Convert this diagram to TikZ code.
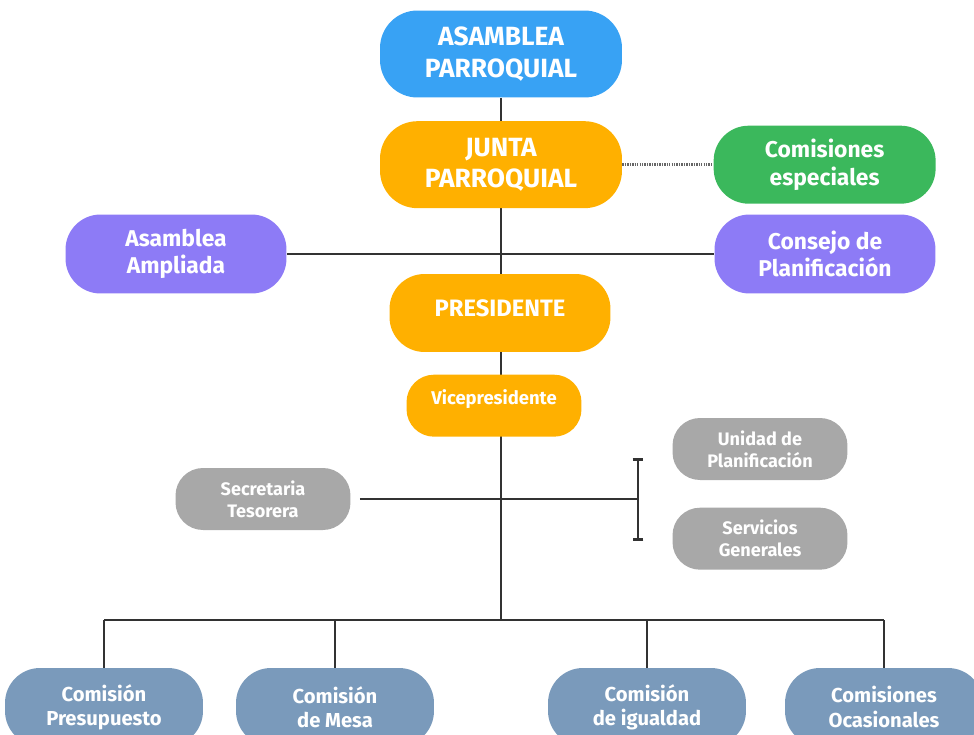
\documentclass[tikz,border=0pt]{standalone}
\usepackage{fontspec}
\setmainfont{Fira Sans}
\usetikzlibrary{positioning, arrows.meta, backgrounds}
\definecolor{asblue}{RGB}{56, 162, 244}
\definecolor{juntaorange}{RGB}{255, 176, 0}
\definecolor{espgreen}{RGB}{59, 184, 92}
\definecolor{conspurple}{RGB}{141, 123, 246}
\definecolor{staffgray}{RGB}{168, 168, 168}
\definecolor{comsteel}{RGB}{122, 154, 187}
\definecolor{linedark}{RGB}{50, 50, 50}
\tikzset{
  orgnode/.style={rounded corners=0.55cm, text=white, align=center, inner sep=2pt},
  topnode/.style={orgnode, rounded corners=0.75cm, fill=asblue, minimum width=4.84cm, minimum height=1.74cm, font=\fontsize{15}{17.8}\selectfont\bfseries},
  juntanode/.style={topnode, fill=juntaorange},
  espnode/.style={orgnode, rounded corners=0.7cm, fill=espgreen, minimum width=4.44cm, minimum height=1.56cm, font=\fontsize{13}{15.5}\selectfont\bfseries},
  consnode/.style={espnode, fill=conspurple, minimum width=4.42cm, minimum height=1.58cm},
  presnode/.style={orgnode, rounded corners=0.7cm, fill=juntaorange, minimum width=4.42cm, minimum height=1.56cm, text depth=0.2cm, font=\fontsize{13.5}{16}\selectfont\bfseries},
  vicenode/.style={orgnode, fill=juntaorange, minimum width=3.5cm, minimum height=1.24cm, text depth=0.33cm, font=\fontsize{10.5}{12.5}\selectfont\bfseries},
  staffnode/.style={orgnode, fill=staffgray, minimum width=3.5cm, minimum height=1.24cm, font=\fontsize{10.3}{12.5}\selectfont\bfseries},
  comnode/.style={orgnode, rounded corners=0.7cm, fill=comsteel, minimum width=3.96cm, minimum height=1.56cm, font=\fontsize{11.5}{13.8}\selectfont\bfseries},
  orgline/.style={draw=linedark, line width=1.5pt},
  dotline/.style={draw=gray!80!black, line width=2pt, dash pattern=on 0.8pt off 0.6pt},
}
\begin{document}
\begin{tikzpicture}[x=0.02cm, y=-0.02cm]
  \useasboundingbox (0,0) rectangle (974,734);
  \clip (0,0) rectangle (974,734);
  % upper part
  \node[topnode] (asp) at (501,54) {ASAMBLEA\\PARROQUIAL};
  \node[juntanode, below=0.46cm of asp] (junta) {JUNTA\\PARROQUIAL};
  \node[espnode, right=1.82cm of junta] (esp) {Comisiones\\especiales};
  \node[consnode] (cons) at (825,254) {Consejo de\\Planificación};
  \node[consnode] (amp) at (176,254) {Asamblea\\Ampliada};
  \node[presnode] (pres) at (500,313) {PRESIDENTE};
  \node[vicenode, below=0.44cm of pres, xshift=-0.12cm] (vice) {Vicepresidente};
  % staff
  \node[staffnode] (sec) at (263,499) {Secretaria\\Tesorera};
  \node[staffnode] (uni) at (760,449) {Unidad de\\Planificación};
  \node[staffnode, below=0.54cm of uni] (serv) {Servicios\\Generales};
  % commissions
  \node[comnode] (cpre) at (104,707) {Comisión\\Presupuesto};
  \node[comnode] (cmes) at (335,707) {Comisión\\de Mesa};
  \node[comnode] (cigu) at (647,707) {Comisión\\de igualdad};
  \node[comnode] (cocs) at (884,707) {Comisiones\\Ocasionales};
  \coordinate (bus) at (501,620);
  \coordinate (brk) at (638,499);
  \coordinate (brktop) at (638,458);
  \coordinate (brkbot) at (638,541);
  \begin{scope}[on background layer]
    \draw[orgline] (asp) -- (asp |- bus);
    \draw[orgline] (amp.east) -- (cons.west);
    \draw[dotline] (junta.east) -- (esp.west);
    \draw[orgline, shorten <=0.18cm] (sec.east) -- (brk);
    \draw[orgline, {Bar[width=6pt]}-{Bar[width=6pt]}] (brktop) -- (brkbot);
    \draw[orgline] (cpre.north |- bus) -- (cocs.north |- bus);
    \foreach \c in {cpre, cmes, cigu, cocs}
      \draw[orgline] (\c.north |- bus) -- (\c.north);
  \end{scope}
\end{tikzpicture}
\end{document}
